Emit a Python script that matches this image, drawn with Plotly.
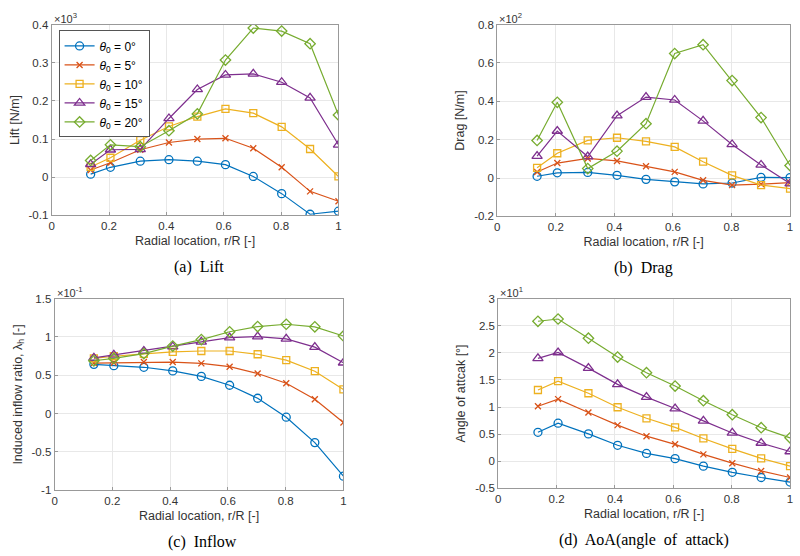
import plotly.graph_objects as go

W, H = 800, 556

r = [0.136, 0.205, 0.309, 0.409, 0.508, 0.606, 0.703, 0.802, 0.901, 1.0]
pitch = [0, 5, 10, 15, 20]

lift = [  # x10^3 N/m
    [0.008, 0.026, 0.042, 0.046, 0.042, 0.033, 0.002, -0.043, -0.097, -0.089],
    [0.019, 0.038, 0.072, 0.091, 0.100, 0.102, 0.076, 0.026, -0.037, -0.063],
    [0.027, 0.051, 0.097, 0.133, 0.159, 0.179, 0.168, 0.132, 0.074, 0.002],
    [0.034, 0.072, 0.073, 0.154, 0.230, 0.268, 0.271, 0.249, 0.208, 0.085],
    [0.044, 0.085, 0.080, 0.122, 0.166, 0.307, 0.391, 0.383, 0.350, 0.163],
]
drag = [  # x10^2 N/m
    [0.009, 0.027, 0.029, 0.014, -0.007, -0.020, -0.031, -0.026, 0.003, 0.002],
    [0.031, 0.078, 0.102, 0.089, 0.061, 0.032, -0.012, -0.037, -0.032, -0.024],
    [0.053, 0.129, 0.196, 0.210, 0.191, 0.162, 0.085, 0.014, -0.037, -0.055],
    [0.114, 0.245, 0.112, 0.325, 0.422, 0.407, 0.298, 0.175, 0.068, -0.029],
    [0.196, 0.395, 0.049, 0.140, 0.283, 0.649, 0.695, 0.508, 0.315, 0.065],
]
inflow = [  # x10^-1
    [0.642, 0.625, 0.604, 0.557, 0.485, 0.370, 0.200, -0.047, -0.378, -0.816],
    [0.659, 0.663, 0.672, 0.672, 0.655, 0.612, 0.523, 0.395, 0.187, -0.115],
    [0.719, 0.748, 0.778, 0.804, 0.816, 0.816, 0.774, 0.697, 0.553, 0.315],
    [0.727, 0.765, 0.816, 0.872, 0.935, 0.991, 1.003, 0.974, 0.867, 0.663],
    [0.689, 0.719, 0.782, 0.880, 0.965, 1.067, 1.135, 1.165, 1.131, 1.012],
]
aoa = [  # x10^1 deg
    [0.534, 0.702, 0.504, 0.294, 0.144, 0.048, -0.090, -0.204, -0.300, -0.384],
    [1.014, 1.146, 0.900, 0.666, 0.462, 0.312, 0.126, -0.036, -0.180, -0.300],
    [1.314, 1.476, 1.254, 0.996, 0.792, 0.624, 0.420, 0.228, 0.054, -0.090],
    [1.897, 2.005, 1.717, 1.417, 1.182, 0.972, 0.744, 0.522, 0.336, 0.180],
    [2.581, 2.623, 2.269, 1.921, 1.633, 1.387, 1.116, 0.858, 0.618, 0.432],
]

colors = ["#0072BD", "#D95319", "#EDB120", "#7E2F8E", "#77AC30"]
symbols = ["circle-open", "x-thin-open", "square-open", "triangle-up-open", "diamond-open"]
msizes = [8, 6, 7, 9, 8]

panels = [
    dict(data=lift, ax="", pix=(49, 338, 19, 214), yr=[-0.1, 0.4], dt=0.1,
         ytitle="Lift [N/m]", exp="3", cap="(a)  Lift"),
    dict(data=drag, ax="2", pix=(498, 793, 19, 215), yr=[-0.2, 0.8], dt=0.2,
         ytitle="Drag [N/m]", exp="2", cap="(b)  Drag"),
    dict(data=inflow, ax="3", pix=(52, 343, 299, 495), yr=[-1, 1.5], dt=0.5,
         ytitle="Induced inflow ratio, λ<sub>h</sub> [-]", exp="-1", cap="(c)  Inflow"),
    dict(data=aoa, ax="4", pix=(499, 793, 299, 493), yr=[-0.5, 3], dt=0.5,
         ytitle="Angle of attcak [°]", exp="1", cap="(d)  AoA(angle  of  attack)"),
]

fig = go.Figure()
annotations = []
FONT = "Liberation Sans, Arial, sans-serif"
tickfont = dict(family=FONT, size=11.5, color="#333333")

def fmt(v):
    s = ("%.2f" % v).rstrip("0").rstrip(".")
    return "0" if s in ("-0", "") else s

for pi, p in enumerate(panels):
    x0, x1, y0, y1 = p["pix"]
    xd = [x0 / W, x1 / W]
    yd = [1 - y1 / H, 1 - y0 / H]
    for k in range(5):
        fig.add_trace(go.Scatter(
            x=r, y=p["data"][k], mode="lines+markers",
            name="<i>θ</i><sub>0</sub> = %d°" % pitch[k],
            line=dict(color=colors[k], width=1.2),
            marker=dict(symbol=symbols[k], size=msizes[k], color=colors[k],
                        line=dict(width=1.3, color=colors[k])),
            showlegend=(pi == 0),
            xaxis="x" + p["ax"], yaxis="y" + p["ax"],
        ))
    n = round((p["yr"][1] - p["yr"][0]) / p["dt"])
    yt = [p["yr"][0] + i * p["dt"] for i in range(n + 1)]
    axcommon = dict(showline=True, linecolor="#999999", linewidth=1, mirror=True,
                    showgrid=True, gridcolor="#e8e8e8", gridwidth=1, zeroline=False,
                    ticks="inside", ticklen=3, tickcolor="#999999", tickfont=tickfont)
    fig.layout["xaxis" + p["ax"]] = dict(
        domain=xd, range=[0, 1], anchor="y" + p["ax"],
        tickvals=[0, 0.2, 0.4, 0.6, 0.8, 1], ticktext=["0", "0.2", "0.4", "0.6", "0.8", "1"],
        title=dict(text="Radial location, r/R [-]", font=dict(family=FONT, size=12.5, color="#333333"),
                   standoff=5),
        **axcommon)
    fig.layout["yaxis" + p["ax"]] = dict(
        domain=yd, range=p["yr"], anchor="x" + p["ax"],
        tickvals=yt, ticktext=[fmt(v) for v in yt],
        title=dict(text=p["ytitle"], font=dict(family=FONT, size=12.5, color="#333333"),
                   standoff=6),
        **axcommon)
    annotations.append(dict(
        x=x0 / W, y=1 - y0 / H, xref="paper", yref="paper", xanchor="left", yanchor="bottom",
        text="×10<sup>%s</sup>" % p["exp"], showarrow=False, yshift=-2,
        font=dict(family=FONT, size=11, color="#333333")))
    annotations.append(dict(
        x=(x0 + x1) / 2 / W + (0.005 if pi % 2 == 0 else 0.0), y=1 - (y1 + 53) / H,
        xref="paper", yref="paper", xanchor="center", yanchor="middle",
        text=p["cap"], showarrow=False,
        font=dict(family="Liberation Serif, Times New Roman, serif", size=16, color="#000")))

fig.update_layout(
    width=W, height=H, margin=dict(l=0, r=0, t=0, b=0),
    paper_bgcolor="white", plot_bgcolor="white",
    annotations=annotations,
    legend=dict(x=56 / W, y=1 - 25 / H, xanchor="left", yanchor="top",
                bgcolor="white", bordercolor="#555", borderwidth=1,
                font=dict(family=FONT, size=12, color="#000"),
                tracegroupgap=0, itemwidth=30),
)

fig.write_html("out.html", config={"displayModeBar": False},
               post_script="document.body.style.margin='0';document.body.style.overflow='hidden';")
